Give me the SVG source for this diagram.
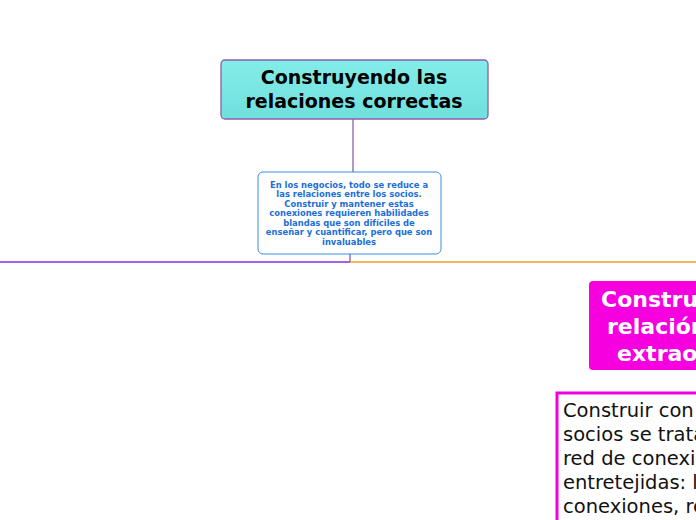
<svg xmlns="http://www.w3.org/2000/svg" width="696" height="520" viewBox="0 0 696 520">
<style>
text{font-family:"DejaVu Sans",Verdana,sans-serif}
.t{font-weight:bold;font-size:19px;fill:#000;text-anchor:middle}
.b{font-weight:bold;font-size:8.4px;fill:#1a6fd8;text-anchor:middle}
.p{font-weight:bold;font-size:22px;fill:#fff}
.n{font-size:19.5px;fill:#111}
</style>
<defs><linearGradient id="g" x1="0" y1="0" x2="0" y2="1"><stop offset="0" stop-color="#84ece9"/><stop offset="1" stop-color="#6fe0dc"/></linearGradient></defs>
<rect width="696" height="520" fill="#fff"/>
<g id="connectors" fill="none" stroke-width="1.3">
<line x1="353" y1="119" x2="353" y2="172" stroke="#8a5fb0"/>
<line x1="350" y1="254" x2="350" y2="262" stroke="#8a5fb0"/>
<line x1="0" y1="262" x2="350" y2="262" stroke="#8a2be2"/>
<line x1="350" y1="262" x2="696" y2="262" stroke="#f0a030"/>
</g>
<g id="title"><rect x="221" y="60" width="267" height="59" rx="4" fill="url(#g)" stroke="#8a5fb0" stroke-width="1.3"/>
<text class="t" x="354" y="84">Construyendo las</text><text class="t" x="354" y="108">relaciones correctas</text></g>
<g id="intro"><rect x="258" y="172" width="183" height="82" rx="5" fill="#fff" stroke="#3b8ee0"/>
<text class="b" x="349" y="188">En los negocios, todo se reduce a</text>
<text class="b" x="349" y="197">las relaciones entre los socios.</text>
<text class="b" x="349" y="207">Construir y mantener estas</text>
<text class="b" x="349" y="216">conexiones requieren habilidades</text>
<text class="b" x="349" y="226">blandas que son difíciles de</text>
<text class="b" x="349" y="235">enseñar y cuantificar, pero que son</text>
<text class="b" x="349" y="245">invaluables</text></g>
<g id="pink"><rect x="589" y="281" width="140" height="89" rx="4" fill="#f700e0"/>
<text class="p" x="601" y="307">Construir la</text><text class="p" x="607" y="334">relación</text><text class="p" x="617" y="361">extraordinaria</text></g>
<g id="detail"><rect x="557" y="393" width="160" height="140" fill="#fff" stroke="#f000e0" stroke-width="3"/>
<text class="n" x="563" y="417">Construir con los</text>
<text class="n" x="563" y="441">socios se trata de una</text>
<text class="n" x="563" y="465">red de conexiones</text>
<text class="n" x="563" y="489">entretejidas: las</text>
<text class="n" x="563" y="513">conexiones, relaciones</text></g>
</svg>
